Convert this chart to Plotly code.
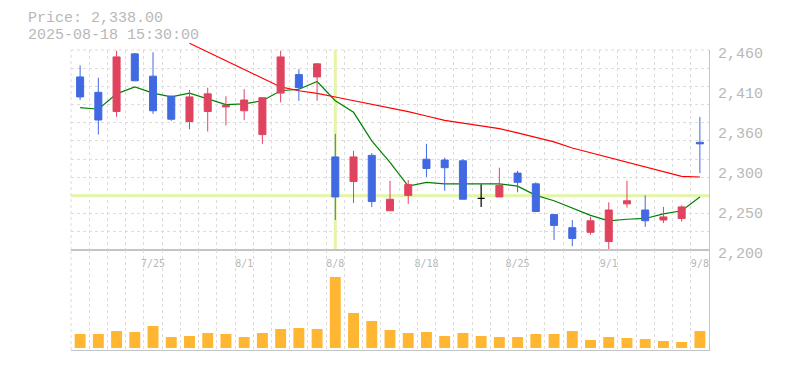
import plotly.graph_objects as go

# ---------------- data ----------------
dates = ["7/18", "7/22", "7/23", "7/24", "7/25", "7/28", "7/29", "7/30", "7/31", "8/1",
         "8/4", "8/5", "8/6", "8/7", "8/8", "8/12", "8/13", "8/14", "8/15", "8/18",
         "8/19", "8/20", "8/21", "8/22", "8/25", "8/26", "8/27", "8/28", "8/29", "9/1",
         "9/2", "9/3", "9/4", "9/5", "9/8"]
opens = [2425, 2405, 2380, 2455, 2426, 2400, 2367, 2380, 2386, 2381,
         2350, 2404, 2428, 2425, 2321, 2289, 2323, 2251, 2271, 2318,
         2317, 2316, 2267, 2269, 2300, 2286, 2246, 2229, 2223, 2211,
         2260, 2252, 2239, 2241, 2340]
highs = [2440, 2424, 2459, 2456, 2457, 2401, 2408, 2411, 2400, 2409,
         2398, 2459, 2435, 2443, 2351, 2329, 2326, 2290, 2291, 2338,
         2320, 2318, 2285, 2307, 2303, 2288, 2246, 2239, 2243, 2262,
         2290, 2271, 2256, 2258, 2373]
lows = [2395, 2350, 2373, 2420, 2377, 2368, 2357, 2354, 2362, 2369,
        2338, 2392, 2394, 2394, 2239, 2261, 2256, 2251, 2260, 2295,
        2277, 2266, 2256, 2269, 2275, 2250, 2213, 2205, 2220, 2200,
        2255, 2230, 2235, 2237, 2300]
closes = [2399, 2369, 2451, 2420, 2381, 2370, 2399, 2403, 2388, 2395,
          2398, 2451, 2411, 2442, 2269, 2321, 2263, 2266, 2285, 2306,
          2307, 2266, 2267, 2284, 2288, 2250, 2232, 2215, 2238, 2252,
          2264, 2238, 2243, 2256, 2338]
ma_short = [2385, 2383, 2403, 2412, 2404, 2399, 2404, 2396, 2389, 2390,
            2394, 2407, 2409, 2419, 2394, 2379, 2342, 2314, 2283, 2288,
            2286, 2286, 2286, 2286, 2283, 2271, 2264, 2254, 2245, 2238,
            2240, 2241, 2247, 2251, 2269]
ma_long = [None, None, None, None, None, None, 2468.7, 2457.4, 2446.1, 2434.2,
           2422.7, 2412.0, 2407.0, 2403.7, 2398.9, 2394.1, 2389.8, 2385.5, 2379.8, 2374.2,
           2368.5, 2365.0, 2361.2, 2357.7, 2352.3, 2346.5, 2340.6, 2332.6, 2326.5, 2320.5,
           2314.0, 2307.6, 2301.4, 2295.8, 2294.9]
volume_k = [14, 14, 17, 16, 22, 11, 12, 15, 14, 11,
            15, 19, 20, 19, 71, 35, 27, 18, 15, 16,
            12, 15, 12, 11, 11, 14, 14, 17, 8, 11,
            10, 9, 7, 6, 17]
label_dates = ["7/25", "8/1", "8/8", "8/18", "8/25", "9/1", "9/8"]
price_tick_vals = [2200, 2252, 2304, 2356, 2408, 2460]
price_tick_text = ["2,200", "2,250", "2,300", "2,360", "2,410", "2,460"]
header_price = "Price: 2,338.00"
header_time = "2025-08-18 15:30:00"
cross_date = "8/8"
cross_price = 2270.6

# ---------------- styles ----------------
UP = "#e0435e"
DOWN = "#4169e1"
GRID = "#dcdcdc"
AXIS = "#c4c4c4"
TEXT = "#b8b8b8"
VOL = "#ffb733"
CROSS = "#e3f5a6"
MONO = "Liberation Mono"
DASH = "3px,3px"

x = list(range(len(dates)))
xr = [-0.5, len(dates) - 0.5]
p_lo, p_hi = 2200, 2460
px_per_unit = 200 / (p_hi - p_lo)        # main panel is 200 px tall
ext_hi = p_lo + 220 / px_per_unit         # extended panel (for long MA) is 220 px tall
grid_vals = [p_lo + k * (p_hi - p_lo) / 11 for k in range(12)]
MAIN_DOM = [100 / 320, 300 / 320]
EXT_DOM = [100 / 320, 1]
VOL_DOM = [0, 100 / 320]

normal = [i for i in x if opens[i] != closes[i]]
doji = [i for i in x if opens[i] == closes[i]]
ci = dates.index(cross_date)

fig = go.Figure()

# --- subplot A (x/y): grid, crosshair, short MA (below candles)
fig.add_trace(go.Scatter(x=[ci, ci], y=[p_lo, p_hi], mode="lines",
                         line=dict(color=CROSS, width=3), xaxis="x", yaxis="y", hoverinfo="skip"))
fig.add_trace(go.Scatter(x=xr, y=[cross_price, cross_price], mode="lines",
                         line=dict(color=CROSS, width=3), xaxis="x", yaxis="y", hoverinfo="skip"))
fig.add_trace(go.Scatter(x=x, y=ma_short, mode="lines", line=dict(color="#008000", width=1.2),
                         xaxis="x", yaxis="y", hoverinfo="skip"))

# --- subplot B (x2/y2): long MA on extended panel (can rise above the top)
fig.add_trace(go.Scatter(x=x, y=ma_long, mode="lines", line=dict(color="#ff0000", width=1.2),
                         xaxis="x2", yaxis="y2", hoverinfo="skip"))

# --- subplot C (x3/y3): candles + labelled axes
fig.add_trace(go.Candlestick(
    x=[x[i] for i in normal], open=[opens[i] for i in normal], high=[highs[i] for i in normal],
    low=[lows[i] for i in normal], close=[closes[i] for i in normal],
    increasing=dict(line=dict(color=UP, width=1), fillcolor=UP),
    decreasing=dict(line=dict(color=DOWN, width=1), fillcolor=DOWN),
    whiskerwidth=0, xaxis="x3", yaxis="y3"))
fig.add_trace(go.Candlestick(
    x=[x[i] for i in doji], open=[opens[i] for i in doji], high=[highs[i] for i in doji],
    low=[lows[i] for i in doji], close=[closes[i] for i in doji],
    increasing=dict(line=dict(color="#000000", width=1.2), fillcolor="#000000"),
    decreasing=dict(line=dict(color="#000000", width=1.2), fillcolor="#000000"),
    whiskerwidth=0, xaxis="x3", yaxis="y3"))

# --- subplot D (x4/y4): volume
fig.add_trace(go.Bar(x=x, y=volume_k, marker=dict(color=VOL, line=dict(width=0)),
                     xaxis="x4", yaxis="y4"))

minor_grid = dict(tick0=0.5, dtick=1, showgrid=True, gridcolor=GRID, griddash=DASH,
                  gridwidth=1, ticks="")
hidden = dict(visible=False, fixedrange=True)

fig.update_layout(
    width=785, height=370,
    margin=dict(l=71, r=76, t=30, b=20, autoexpand=False),
    paper_bgcolor="white", plot_bgcolor="rgba(0,0,0,0)",
    showlegend=False, bargap=0.4, boxgap=0.45,
    font=dict(family=MONO, size=15, color=TEXT),
    # A
    xaxis=dict(domain=[0, 1], range=xr, anchor="y", showticklabels=False, ticks="",
               showgrid=False, minor=minor_grid, showline=False, zeroline=False),
    yaxis=dict(domain=MAIN_DOM, range=[p_lo, p_hi], anchor="x",
               tickmode="array", tickvals=grid_vals, showticklabels=False, ticks="",
               showgrid=True, gridcolor=GRID, griddash=DASH, gridwidth=1,
               zeroline=False, showline=False),
    # B
    xaxis2=dict(domain=[0, 1], range=xr, anchor="y2", **hidden),
    yaxis2=dict(domain=EXT_DOM, range=[p_lo, ext_hi], anchor="x2", **hidden),
    # C
    xaxis3=dict(domain=[0, 1], range=xr, anchor="y3",
                tickmode="array", tickvals=[dates.index(d) for d in label_dates],
                ticktext=label_dates, tickfont=dict(family="DejaVu Sans Mono", size=10, color=TEXT),
                ticks="outside", ticklen=4, tickcolor="rgba(0,0,0,0)",
                showgrid=False, showline=True, linecolor=AXIS, linewidth=1,
                zeroline=False, rangeslider=dict(visible=False)),
    yaxis3=dict(domain=MAIN_DOM, range=[p_lo, p_hi], anchor="x3", side="right",
                tickmode="array", tickvals=price_tick_vals, ticktext=price_tick_text,
                ticks="outside", ticklen=5, tickcolor="rgba(0,0,0,0)", ticklabelshift=3,
                showgrid=False, zeroline=False, showline=True, linecolor=AXIS, linewidth=1),
    # D
    xaxis4=dict(domain=[0, 1], range=xr, anchor="y4", showticklabels=False, ticks="",
                showgrid=False, minor=minor_grid, showline=True, mirror=True,
                linecolor=AXIS, linewidth=1, zeroline=False),
    yaxis4=dict(domain=VOL_DOM, range=[-2, 98], anchor="x4", side="right",
                showticklabels=False, ticks="", showgrid=False, zeroline=False,
                showline=True, linecolor=AXIS, linewidth=1),
    shapes=[
        dict(type="line", xref="x domain", yref="y domain", x0=0, x1=1, y0=1, y1=1,
             line=dict(color=GRID, width=1, dash=DASH), layer="below"),
        dict(type="line", xref="x domain", yref="y domain", x0=0, x1=0, y0=0, y1=1,
             line=dict(color=GRID, width=1, dash=DASH), layer="below"),
        dict(type="line", xref="x4 domain", yref="y4 domain", x0=0, x1=0, y0=0, y1=1,
             line=dict(color=GRID, width=1, dash=DASH), layer="below"),
    ],
    annotations=[
        dict(text=header_price, xref="paper", yref="paper", x=(26 - 71) / 638, y=(350 - 19) / 320,
             xanchor="left", yanchor="middle", showarrow=False,
             font=dict(family=MONO, size=15, color=TEXT)),
        dict(text=header_time, xref="paper", yref="paper", x=(26 - 71) / 638, y=(350 - 35) / 320,
             xanchor="left", yanchor="middle", showarrow=False,
             font=dict(family=MONO, size=15, color=TEXT)),
    ],
)

fig.write_html("out.html", config={"displayModeBar": False},
               post_script="document.body.style.margin='0px';")
